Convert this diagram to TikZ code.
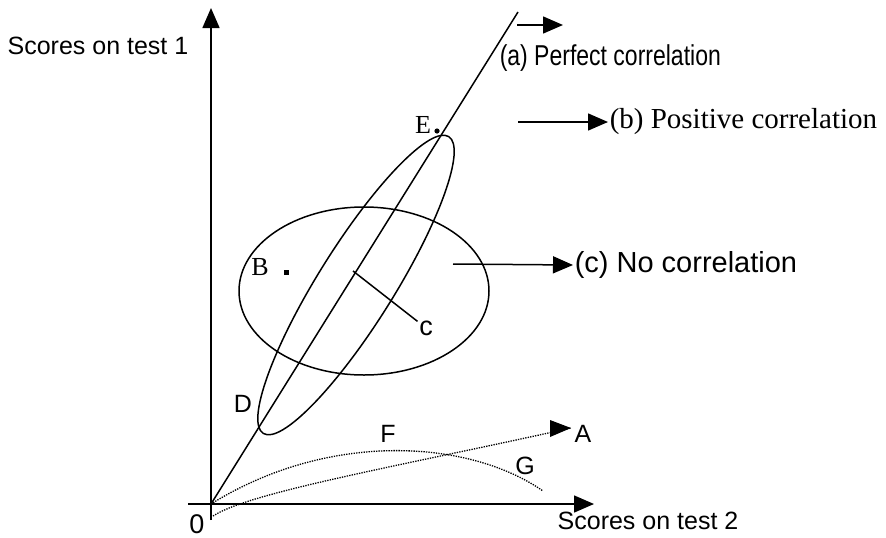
\documentclass[tikz,border=0pt]{standalone}
\usepackage{fontspec}
\setmainfont{Liberation Sans}
\newfontfamily\timesfont{Liberation Serif}
\usetikzlibrary{arrows.meta}
\begin{document}
\begin{tikzpicture}[x=1pt,y=-1pt,line width=1.5pt,
  bigtip/.style={-{Triangle[length=20pt,width=17pt]}},
  dots/.style={line width=1.3pt,dash pattern=on 1.3pt off 1.2pt},
  lbl/.style={font=\fontsize{25}{28}\selectfont,inner sep=1pt},
  serlbl/.style={font=\timesfont\fontsize{26}{30}\selectfont,inner sep=1pt}]
  \useasboundingbox (0,0) rectangle (886,538);
  % axes
  \coordinate (O) at (211,504);
  \draw[bigtip] (188,504) -- (594,504);
  \draw[bigtip] (211,520) -- (211,8);
  \node[lbl] (ylab) at (98,46) {Scores on test 1};
  \node[lbl] (xlab) at (648,521) {Scores on test 2};
  \node[lbl,font=\fontsize{27}{30}\selectfont] (zero) at (197,524) {0};
  % (a) perfect correlation
  \draw (O) -- (518,12);
  \draw[bigtip] (517,25) -- (563,25);
  \node[lbl,anchor=west,font=\fontsize{23}{28}\selectfont] (perf) at (498,58) {\scalebox{1}[1.25]{(a) Perfect correlation}};
  % (b) positive correlation
  \draw[rotate around={58:(356,285)}] (356,285) ellipse (175 and 38);
  \node[lbl,anchor=west,font=\timesfont\fontsize{29}{32}\selectfont] (posi) at (608,122) {(b) Positive correlation};
  \coordinate (bstart) at (518,122);
  \draw[bigtip] (bstart) -- (posi.west);
  \node[serlbl] (E) at (423,125) {E};
  \fill (437,131) circle (2.6);
  % (c) no correlation
  \draw (364,291) ellipse (125 and 84);
  \node[lbl,anchor=west,font=\fontsize{29}{32}\selectfont] (nocor) at (573,265) {(c) No correlation};
  \coordinate (cstart) at (453,264);
  \draw[bigtip] (cstart) -- (nocor.west);
  \node[serlbl] (B) at (260,267) {B};
  \fill (283.5,269.5) rectangle (288.5,274.5);
  \coordinate (cmid) at (353,271);
  \node[lbl,font=\fontsize{27}{30}\selectfont] (c) at (426,328) {c};
  \draw (cmid) -- (c);
  % curves
  \node[lbl] (D) at (243,404) {D};
  \node[lbl] (F) at (388,434) {F};
  \node[lbl] (A) at (583,434) {A};
  \node[lbl] (G) at (525,466) {G};
  \coordinate (astart) at (213,516);
  \coordinate (aend) at (571,428);
  \draw[dots] (astart) .. controls (250,492) and (400,466) .. (aend);
  \fill (aend) -- ++(-21,-8) -- ++(0,17) -- cycle;
  \draw[dots] (O) .. controls (330,430) and (470,440) .. (543,491);
\end{tikzpicture}
\end{document}
